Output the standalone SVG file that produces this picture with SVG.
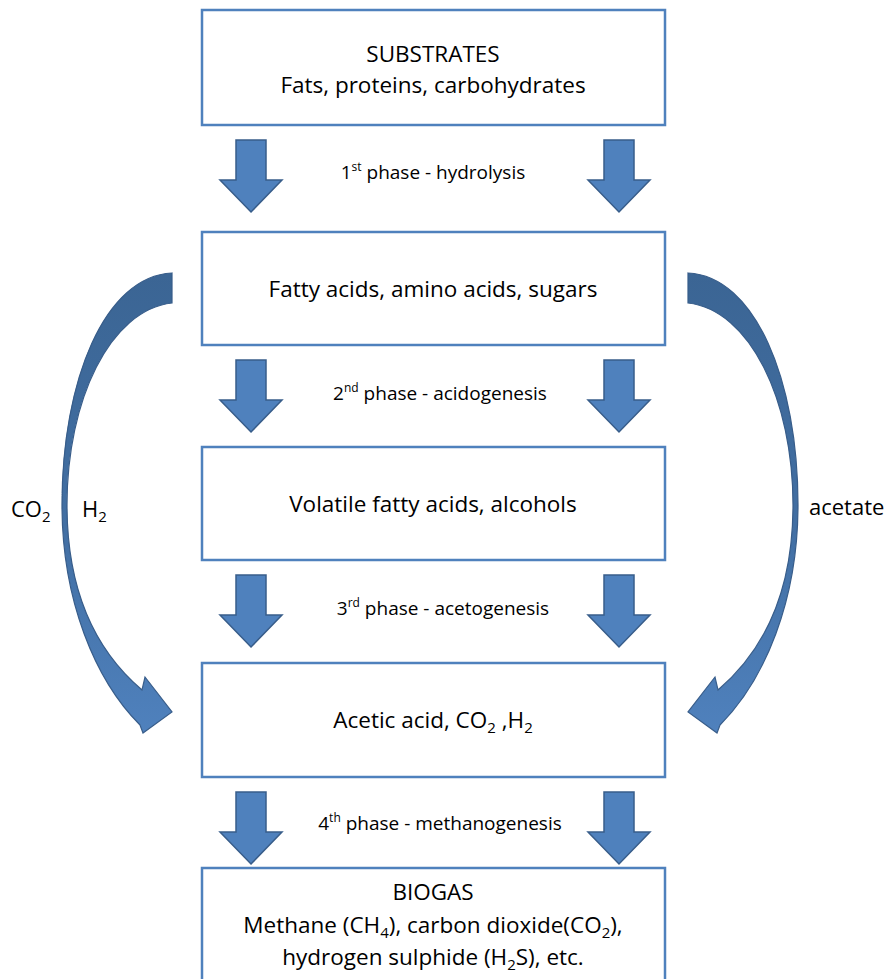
<svg xmlns="http://www.w3.org/2000/svg" width="890" height="979" viewBox="0 0 890 979">
<style>
.box{fill:#fff;stroke:#4F81BD;stroke-width:2.5}
.t{font-family:"Open Sans","Liberation Sans",sans-serif;font-size:22.5px;fill:#000;text-anchor:middle}
.p{font-family:"Open Sans","Liberation Sans",sans-serif;font-size:19px;fill:#000;text-anchor:middle}
.l{font-family:"Open Sans","Liberation Sans",sans-serif;font-size:22px;fill:#000}
.ba{fill:#4F81BD;stroke:#385D8A;stroke-width:1.5}
.ca{stroke:#385D8A;stroke-width:1.2}
</style>
<defs>
<path id="down" d="M-15,0 H15 V40 H31 L0,72 L-31,40 H-15 Z"/>
<linearGradient id="g" x1="0" y1="0" x2="0" y2="1">
<stop offset="0" stop-color="#3B6594"/>
<stop offset="0.55" stop-color="#426FA3"/>
<stop offset="1" stop-color="#4F81BD"/>
</linearGradient>
</defs>
<g id="n1"><rect class="box" x="202" y="10" width="463" height="115"/>
<text class="t" x="433" y="62">SUBSTRATES</text>
<text class="t" x="433" y="93">Fats, proteins, carbohydrates</text></g>
<g id="n2"><rect class="box" x="202" y="232" width="463" height="113"/>
<text class="t" x="433" y="297">Fatty acids, amino acids, sugars</text></g>
<g id="n3"><rect class="box" x="202" y="447" width="463" height="113"/>
<text class="t" x="433" y="512">Volatile fatty acids, alcohols</text></g>
<g id="n4"><rect class="box" x="202" y="663" width="463" height="114"/>
<text class="t" x="433" y="728">Acetic acid, CO<tspan font-size="15" dy="5">2</tspan><tspan dy="-5"> ,H</tspan><tspan font-size="15" dy="5">2</tspan></text></g>
<g id="n5"><rect class="box" x="202" y="868" width="463" height="130"/>
<text class="t" x="433" y="900">BIOGAS</text>
<text class="t" x="433" y="933">Methane (CH<tspan font-size="15" dy="5">4</tspan><tspan dy="-5">), carbon dioxide(CO</tspan><tspan font-size="15" dy="5">2</tspan><tspan dy="-5">),</tspan></text>
<text class="t" x="433" y="965">hydrogen sulphide (H<tspan font-size="15" dy="5">2</tspan><tspan dy="-5">S), etc.</tspan></text></g>
<g id="connectors">
<use href="#down" class="ba" x="251" y="140"/>
<use href="#down" class="ba" x="619" y="140"/>
<use href="#down" class="ba" x="251" y="360"/>
<use href="#down" class="ba" x="619" y="360"/>
<use href="#down" class="ba" x="251" y="575"/>
<use href="#down" class="ba" x="619" y="575"/>
<use href="#down" class="ba" x="251" y="792"/>
<use href="#down" class="ba" x="619" y="792"/>
<path class="ca" fill="url(#g)" d="M172,273 C105,276 62,380 62,505 C62,600 95,680 140,725 L143,733 L172,712 L145,677 L142,690 C95,650 67,590 67,505 C67,400 110,310 172,303 Z"/>
<path class="ca" fill="url(#g)" d="M688,273 C755,276 798,380 798,505 C798,600 765,680 720,725 L717,733 L688,712 L715,677 L718,690 C765,650 793,590 793,505 C793,400 750,310 688,303 Z"/>
<text class="p" x="433" y="179">1<tspan font-size="12" dy="-8">st</tspan><tspan dy="8"> phase - hydrolysis</tspan></text>
<text class="p" x="440" y="400">2<tspan font-size="12" dy="-8">nd</tspan><tspan dy="8"> phase - acidogenesis</tspan></text>
<text class="p" x="443" y="615">3<tspan font-size="12" dy="-8">rd</tspan><tspan dy="8"> phase - acetogenesis</tspan></text>
<text class="p" x="440" y="830">4<tspan font-size="12" dy="-8">th</tspan><tspan dy="8"> phase - methanogenesis</tspan></text>
<text class="l" x="11" y="517">CO<tspan font-size="15" dy="5">2</tspan></text>
<text class="l" x="82" y="517">H<tspan font-size="15" dy="5">2</tspan></text>
<text class="l" x="809" y="515">acetate</text>
</g>
</svg>
